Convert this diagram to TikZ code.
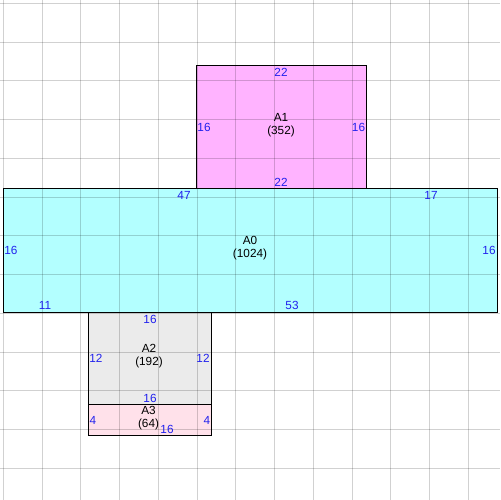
\documentclass[tikz,border=0pt]{standalone}
\usepackage{fontspec}
\setmainfont{Liberation Sans}
\definecolor{cA0}{HTML}{B3FFFF}
\definecolor{cA1}{HTML}{FFB3FF}
\definecolor{cA2}{HTML}{EBEBEB}
\definecolor{cA3}{HTML}{FFE1EA}
\definecolor{lblue}{HTML}{2222EE}
\tikzset{
  room/.style={draw=black,line width=0.8pt},
  gridln/.style={draw=black,opacity=0.18,line width=0.55pt},
  num/.style={text=lblue,inner sep=0pt,anchor=center,font=\fontsize{6.7}{7.4}\selectfont},
  roomlabel/.style={text=black,inner sep=0pt,anchor=center,align=center,font=\fontsize{6.7}{7.4}\selectfont},
}
\begin{document}
\begin{tikzpicture}[x=0.02cm,y=-0.02cm]
\useasboundingbox (0,0) rectangle (500,500);
\fill[white] (0,0) rectangle (500,500);
% corners
\coordinate (a0nw) at (3.3,188.3); \coordinate (a0se) at (497.3,312.3);
\coordinate (a1nw) at (196.3,65.3); \coordinate (a1se) at (366.3,188.3);
\coordinate (a2nw) at (88.3,312.3); \coordinate (a2se) at (211.3,404.3);
\coordinate (a3nw) at (88.3,404.3); \coordinate (a3se) at (211.3,435.3);
% fills
\fill[cA0] (a0nw) rectangle (a0se);
\fill[cA1] (a1nw) rectangle (a1se);
\fill[cA2] (a2nw) rectangle (a2se);
\fill[cA3] (a3nw) rectangle (a3se);
% grid
\foreach \k in {0,...,12}{
  \draw[gridln] ({3.3+38.75*\k},0) -- ({3.3+38.75*\k},500);
  \draw[gridln] (0,{3.3+38.75*\k}) -- (500,{3.3+38.75*\k});
}
% borders
\draw[room] (a0nw) rectangle (a0se);
\draw[room] (a1nw) rectangle (a1se);
\draw[room] (a2nw) rectangle (a2se);
\draw[room] (a3nw) rectangle (a3se);
% A1
\node[roomlabel] (a1) at (281,125) {A1\\(352)};
\node[num] (a1t) at (281,72) {22};
\node[num] (a1l) at (204,127) {16};
\node[num] (a1r) at (358.5,127) {16};
\node[num] (a1b) at (281,182) {22};
% A0
\node[roomlabel] (a0) at (250,248.5) {A0\\(1024)};
\node[num] (a0t1) at (184,195) {47};
\node[num] (a0t2) at (431,195) {17};
\node[num] (a0l) at (11,250) {16};
\node[num] (a0r) at (489,250) {16};
\node[num] (a0b1) at (45,305) {11};
\node[num] (a0b2) at (292,305) {53};
% A2
\node[roomlabel] (a2) at (149,356.5) {A2\\(192)};
\node[num] (a2t) at (150,319) {16};
\node[num] (a2l) at (96,358) {12};
\node[num] (a2r) at (203,358) {12};
\node[num] (a2b) at (150,398) {16};
% A3
\node[roomlabel] (a3) at (148.5,418) {A3\\(64)};
\node[num] (a3l) at (93,420) {4};
\node[num] (a3r) at (207,420) {4};
\node[num] (a3b) at (167,429) {16};
\end{tikzpicture}
\end{document}
